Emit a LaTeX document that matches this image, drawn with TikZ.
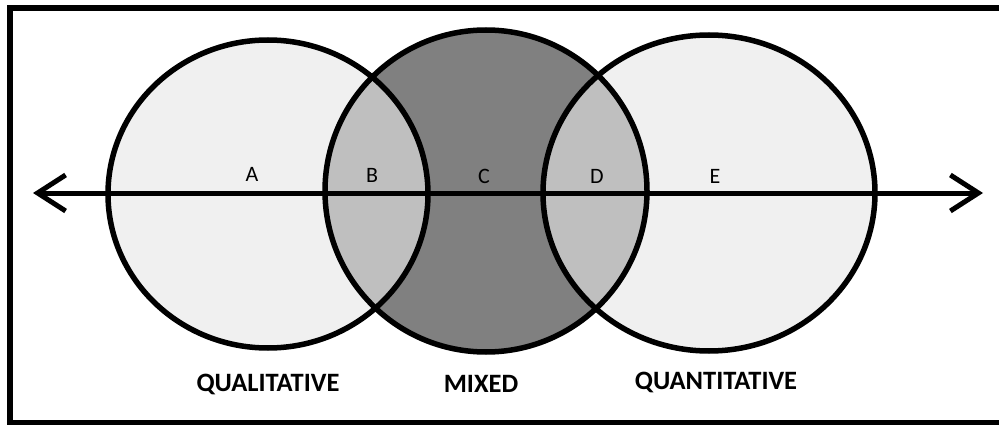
\documentclass[tikz,border=0pt]{standalone}
\usepackage{fontspec}
\setmainfont{Carlito}
\usetikzlibrary{arrows.meta}
\definecolor{PaleGray}{gray}{0.94}
\definecolor{MidGray}{gray}{0.75}
\definecolor{DarkGray}{gray}{0.5}
\tikzset{
	ring/.style={line width=5.5pt},
	zone/.style={font=\fontsize{22}{22}\selectfont},
	method/.style={font=\fontsize{26.5}{26.5}\selectfont\bfseries}
}
\begin{document}
\begin{tikzpicture}[x=1pt,y=-1pt]
	\useasboundingbox (0,0) rectangle (999,425);
	\clip (0,0) rectangle (999,425); % Clips the picture...

		\draw[line width=6pt] (1010,8) -- (10,8) -- (10,423) -- (1010,423);% Frame, open to the right

		\coordinate (QualCenter)  at (268,194);
		\coordinate (MixedCenter) at (486,191);
		\coordinate (QuantCenter) at (709,193);
		\coordinate (AxisMin)     at (33,193);
		\coordinate (AxisMax)     at (983,193);

		\fill[PaleGray] (QualCenter) ellipse [x radius=160pt,y radius=154pt];
		\fill[PaleGray] (QuantCenter) ellipse [x radius=166pt,y radius=158pt];
		\fill[DarkGray] (MixedCenter) ellipse [x radius=161pt,y radius=161pt];
		\begin{scope}
			\clip (MixedCenter) ellipse [x radius=161pt,y radius=161pt];
			\fill[MidGray] (QualCenter) ellipse [x radius=160pt,y radius=154pt];
			\fill[MidGray] (QuantCenter) ellipse [x radius=166pt,y radius=158pt];
		\end{scope}
		\draw[ring] (QualCenter) ellipse [x radius=160pt,y radius=154pt];
		\draw[ring] (MixedCenter) ellipse [x radius=161pt,y radius=161pt];
		\draw[ring] (QuantCenter) ellipse [x radius=166pt,y radius=158pt];

		\draw[line width=5pt,{Straight Barb[length=28pt,width=36pt]}-{Straight Barb[length=28pt,width=36pt]}] (AxisMin) -- (AxisMax);% Draw axis

		\node[zone] (ZoneA) at (252,174) {A};
		\node[zone] (ZoneB) at (372,175) {B};
		\node[zone] (ZoneC) at (484,176) {C};
		\node[zone] (ZoneD) at (597,176) {D};
		\node[zone] (ZoneE) at (715,176) {E};

		\node[method] (Qual)  at (268,384) {QUALITATIVE};
		\node[method] (Mixed) at (481,384) {MIXED};
		\node[method] (Quant) at (716,382) {QUANTITATIVE};
	\end{tikzpicture}
\end{document}
